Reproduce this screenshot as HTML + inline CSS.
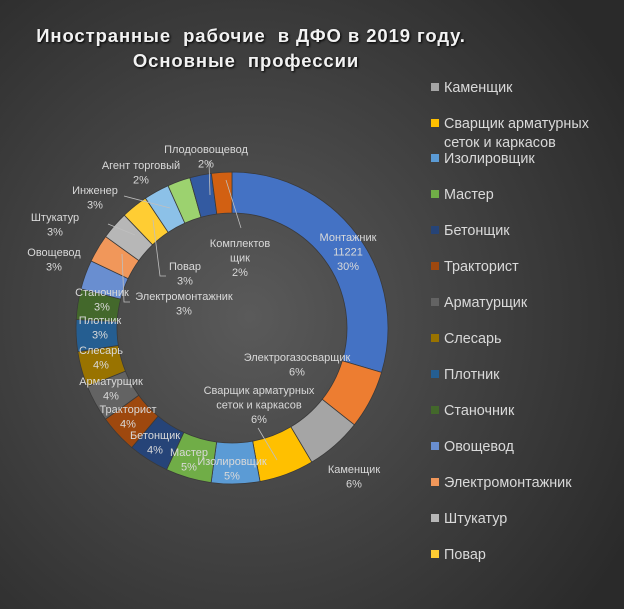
<!DOCTYPE html>
<html><head><meta charset="utf-8">
<style>
html,body{margin:0;padding:0}
body{width:624px;height:609px;overflow:hidden;background:radial-gradient(ellipse 70% 75% at 40% 52%,#5a5a5a 0%,#444 45%,#2a2a2a 100%);font-family:"Liberation Sans","Noto Sans CJK SC",sans-serif}
svg{position:absolute;left:0;top:0}
</style></head>
<body>
<svg id="chart" width="624" height="609">
<g id="title" fill="#f2f2f2" font-weight="bold" font-size="18.5" text-anchor="middle" style="letter-spacing:0.9px;filter:drop-shadow(1px 1px 1px #000)">
<text x="251" y="42" xml:space="preserve">Иностранные  рабочие  в ДФО в 2019 году.</text>
<text x="246" y="67" xml:space="preserve">Основные  профессии</text>
</g>
<g id="slices"></g>
<g id="leaders" stroke="#bfbfbf" stroke-width="0.8" fill="none"></g>
<g id="labels" fill="#d9d9d9" font-size="11" text-anchor="middle"></g>
<g id="legend" fill="#d9d9d9" font-size="14.4"></g>
</svg>
<script>
const categories = ["Монтажник","Электрогазосварщик","Каменщик","Сварщик арматурных сеток и каркасов","Изолировщик","Мастер","Бетонщик","Тракторист","Арматурщик","Слесарь","Плотник","Станочник","Овощевод","Электромонтажник","Штукатур","Повар","Инженер","Агент торговый","Плодоовощевод","Комплектовщик"];
const values = [11221,2300,2200,2150,1900,1800,1600,1500,1450,1400,1250,1200,1150,1100,1100,1050,1000,900,850,800];
const colors = ["#4472c4","#ed7d31","#a5a5a5","#ffc000","#5b9bd5","#70ad47","#264478","#9e480e","#636363","#997300","#255e91","#43682b","#698ed0","#f1975a","#b7b7b7","#ffcd33","#8cc1e8","#9cd26f","#335aa1","#d26012"];
const legendIdx = [2,3,4,5,6,7,8,9,10,11,12,13,14,15];
const NS="http://www.w3.org/2000/svg";
const cx=232, cy=328, R=156, r=115;
const total=values.reduce((a,b)=>a+b,0);
function pt(a,rad){return [cx+rad*Math.sin(a), cy-rad*Math.cos(a)];}
const sg=document.getElementById('slices');
let acc=0;
values.forEach((v,i)=>{
  const a0=acc/total*2*Math.PI; acc+=v; const a1=acc/total*2*Math.PI;
  const large=(a1-a0)>Math.PI?1:0;
  const p0=pt(a0,R),p1=pt(a1,R),q1=pt(a1,r),q0=pt(a0,r);
  const p=document.createElementNS(NS,'path');
  p.setAttribute('d',`M${p0}A${R},${R} 0 ${large} 1 ${p1}L${q1}A${r},${r} 0 ${large} 0 ${q0}Z`);
  p.setAttribute('fill',colors[i]);
  p.setAttribute('stroke','#3a3a3a');p.setAttribute('stroke-width','0.8');
  
  
  sg.appendChild(p);
});
const labelPos=[[0,348,237],[1,297,357],[2,354,469],[3,259,390],[4,232,461],[5,189,452],[6,155,435],[7,128,409],[8,111,381],[9,101,350],[10,100,320],[11,102,292],[12,54,252],[13,184,296],[14,55,217],[15,185,266],[16,95,190],[17,141,165],[18,206,149],[19,240,243]];
const lines={0:["Монтажник","11221"],3:["Сварщик арматурных","сеток и каркасов"],19:["Комплектов","щик"]};
const lg=document.getElementById('labels');
labelPos.forEach(([i,x,y])=>{
  const t=document.createElementNS(NS,'text');
  t.setAttribute('x',x);t.setAttribute('y',y+4);
  
  
  const ls=(lines[i]||[categories[i]]).concat([Math.round(values[i]/total*100)+"%"]);
  ls.forEach((s,k)=>{const ts=document.createElementNS(NS,'tspan');ts.setAttribute('x',x);ts.setAttribute('dy',k?14.5:0);ts.textContent=s;t.appendChild(ts);});
  lg.appendChild(t);
});
const leaders=["M226,180L241,228","M153,220L160,276L166,276","M122,254L124,302L130,302","M124,196L170,208","M108,224L135,235","M258,428L277,460","M209,161L210,195"];
const ld=document.getElementById('leaders');
leaders.forEach((d,k)=>{const p=document.createElementNS(NS,'path');p.setAttribute('d',d);


ld.appendChild(p);});
const leg=document.getElementById('legend');
let y=87;
legendIdx.forEach(i=>{
  const g=document.createElementNS(NS,'g');
  
  
  const rc=document.createElementNS(NS,'rect');
  rc.setAttribute('x',431);rc.setAttribute('y',y-4);rc.setAttribute('width',8);rc.setAttribute('height',8);rc.setAttribute('fill',colors[i]);
  g.appendChild(rc);
  const ls=lines[i]||[categories[i]];
  ls.forEach((s,k)=>{const t=document.createElementNS(NS,'text');t.setAttribute('x',444);t.setAttribute('y',y+5+k*19);t.textContent=s;g.appendChild(t);});
  leg.appendChild(g);
  y+= ls.length>1?35:36;
});
</script>
</body></html>
